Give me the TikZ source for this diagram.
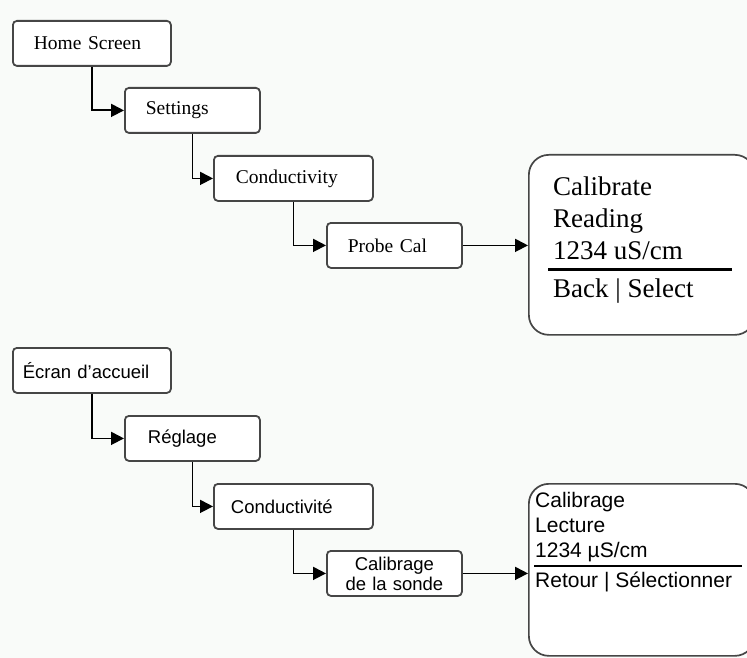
\documentclass[tikz,border=0pt]{standalone}
\usepackage{fontspec}
\setmainfont{Liberation Serif}
\setsansfont{Liberation Sans}
\usetikzlibrary{arrows.meta}
\definecolor{boxgray}{RGB}{70,70,70}
\definecolor{bgtint}{RGB}{249,251,249}
\begin{document}
\begin{tikzpicture}[x=1pt, y=-1pt,
    menubox/.style={draw=boxgray, line width=1.8pt, rounded corners=4pt, fill=white, anchor=north west, minimum height=45pt, inner ysep=0pt, align=left},
    screenbox/.style={draw=boxgray, line width=1.7pt, rounded corners=20pt, fill=white, anchor=north west, minimum width=226pt, inner sep=0pt},
    link/.style={line width=1.8pt, -{Triangle[length=13pt, width=13pt]}},
    entxt/.style={font=\fontsize{19.5}{23}\selectfont},
    frtxt/.style={font=\sffamily\fontsize{18.5}{20}\selectfont},
    enline/.style={anchor=base west, inner sep=0pt, font=\fontsize{27}{32}\selectfont},
    frline/.style={anchor=base west, inner sep=0pt, font=\sffamily\fontsize{21}{25}\selectfont}]
    \clip (0,0) rectangle (747,658);
    \fill[bgtint] (0,0) rectangle (747,658);

    \node[menubox, entxt, inner xsep=21pt, text width=116pt] (home) at (12,20) {Home Screen};
    \node[menubox, entxt, inner xsep=21pt, text width=93pt] (settings) at (124,87) {Settings};
    \node[menubox, entxt, inner xsep=22pt, text width=115pt] (cond) at (213,155) {Conductivity};
    \node[menubox, entxt, inner xsep=21pt, text width=93pt] (probe) at (326,222) {Probe Cal};
    \node[screenbox, minimum height=180pt] (scren) at (528,154) {};
    \node[enline] (encal) at (553,195) {Calibrate};
    \node[enline] (enread) at (553,227) {Reading};
    \node[enline] (enval) at (553,259) {1234 uS/cm};
    \draw[line width=3pt] (548,269) -- (732,269);
    \node[enline] (enback) at (553,297) {Back | Select};

    \draw[link] (home.south) |- (settings.west);
    \draw[link] (settings.south) |- (cond.west);
    \draw[link] (cond.south) |- (probe.west);
    \draw[link] (probe.east) -- (probe.east -| scren.west);

    \node[menubox, frtxt, inner xsep=10pt, text width=138pt] (ecran) at (12,347) {Écran d’accueil};
    \node[menubox, frtxt, inner xsep=23pt, text width=89pt] (reglage) at (124,415) {Réglage};
    \node[menubox, frtxt, inner xsep=17pt, text width=125pt] (condfr) at (213,483) {Conductivité};
    \node[menubox, frtxt, inner xsep=5pt, text width=125pt, align=center] (calib) at (326,550) {Calibrage\\de la sonde};
    \node[screenbox, minimum height=172pt] (scrfr) at (528,483) {};
    \node[frline] (frcal) at (535,507) {Calibrage};
    \node[frline] (frread) at (535,532) {Lecture};
    \node[frline] (frval) at (535,557) {1234 µS/cm};
    \draw[line width=1.8pt] (534,566) -- (742,566);
    \node[frline] (frback) at (535,587) {Retour | Sélectionner};

    \draw[link] (ecran.south) |- (reglage.west);
    \draw[link] (reglage.south) |- (condfr.west);
    \draw[link] (condfr.south) |- (calib.west);
    \draw[link] (calib.east) -- (calib.east -| scrfr.west);
\end{tikzpicture}
\end{document}
